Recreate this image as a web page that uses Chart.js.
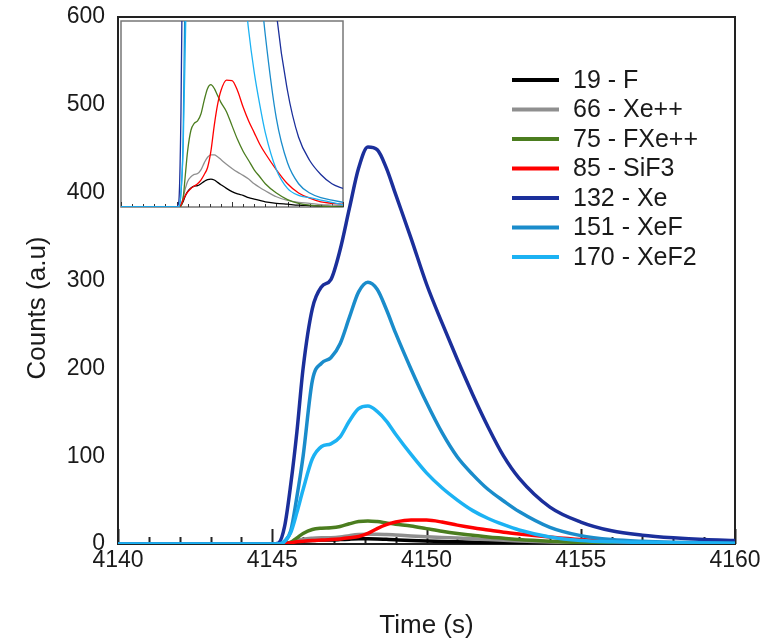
<!DOCTYPE html>
<html>
<head>
<meta charset="utf-8">
<script src="https://cdn.jsdelivr.net/npm/chart.js@4.4.1/dist/chart.umd.min.js"></script>
<style>
  body { margin: 0; background: #fff; }
  #wrap { position: relative; width: 769px; height: 641px; }
  #inset { position: absolute; left: 120px; top: 20px; background: #fff; }
</style>
</head>
<body>
<div id="wrap">
  <canvas id="mainChart" width="769" height="641"></canvas>
  <canvas id="inset" width="224" height="188"></canvas>
</div>
<script>
// time axis (s)
const times = [4140, 4145, 4145.2, 4145.4, 4145.6, 4145.8, 4146.0, 4146.3, 4146.6, 4146.9,
  4147.2, 4147.5, 4147.8, 4148.1, 4148.4, 4148.7, 4149.0, 4149.5, 4150, 4150.5,
  4151, 4151.5, 4152, 4152.5, 4153, 4154, 4155, 4156, 4157, 4158, 4159, 4160];

// counts per mass
const f19 = [0, 0, 0, 0.3, 1.2, 2.4, 3.3, 4.1, 4.5, 4.6,
  5.0, 5.5, 5.9, 6.0, 5.8, 5.3, 4.8, 4.0, 3.3, 2.8,
  2.5, 2.0, 1.7, 1.4, 1.1, 0.8, 0.6, 0.4, 0.3, 0.2, 0.1, 0.1];
const xe66 = [0, 0, 0, 0.5, 2, 4, 5.5, 6.5, 7, 7.2,
  8, 9.5, 10.7, 11.2, 11.2, 10.8, 10.2, 9.2, 8.3, 7.5,
  6.8, 6, 5, 4.2, 3.5, 2.2, 1.4, 1, 0.8, 0.5, 0.4, 0.3];
const fxe75 = [0, 0, 0, 0.2, 2, 7, 12, 16.5, 18, 18.5,
  20, 23, 25.5, 26.3, 25.5, 24, 22.5, 20.5, 17.5, 14.5,
  12, 10, 8, 6.5, 5, 3, 1.6, 0.8, 0.4, 0.2, 0.1, 0];
const sif85 = [0, 0, 0, 0.5, 1.5, 2.5, 3.2, 4, 4.5, 5,
  5.8, 7, 8.5, 12, 17.5, 22, 25, 27.3, 27.2, 25,
  21.5, 18.5, 16, 13.5, 11.5, 8, 5, 3, 1.9, 1.1, 0.8, 0.6];
const xe132 = [0, 0, 1, 20, 68, 128, 200, 268, 293, 301,
  335, 382, 428, 452, 449, 428, 398, 348, 296, 252,
  210, 170, 133, 100, 75, 42, 25, 15, 10, 7, 5, 4];
const xef151 = [0, 0, 0, 3, 15, 54, 100, 186, 206, 212,
  228, 258, 287, 298, 290, 267, 240, 199, 161, 127,
  99, 79, 62, 49, 37, 19, 9.5, 5, 3, 2, 1.5, 1];
const xef170 = [0, 0, 0, 3, 13, 36, 62, 97, 111, 114,
  122, 140, 154, 157, 151, 140, 125, 102, 81, 64,
  50, 38, 29, 22, 16, 8, 4, 2.5, 2, 1.5, 1, 0.5];

const seriesLabels = ['19 - F', '66 - Xe++', '75 - FXe++', '85 - SiF3', '132 - Xe', '151 - XeF', '170 - XeF2'];
const seriesValues = [f19, xe66, fxe75, sif85, xe132, xef151, xef170];
const seriesColors = ['#000000', '#8f8f8f', '#4b7d1f', '#ff0000', '#1b2f9b', '#1a8ccb', '#1cb2f3'];

const xTicks = [4140, 4145, 4150, 4155, 4160];
const yTicks = [0, 100, 200, 300, 400, 500, 600];

const FONT = '"Liberation Sans", Arial, sans-serif';
Chart.defaults.font.family = FONT;
Chart.defaults.color = '#1a1a1a';

function makeDatasets(width) {
  return seriesValues.map((vals, i) => ({
    label: seriesLabels[i],
    data: vals.map((v, j) => ({ x: times[j], y: v })),
    borderColor: seriesColors[i],
    backgroundColor: seriesColors[i],
    borderWidth: width,
    order: seriesValues.length - i,
    fill: false
  }));
}

// box around the plot + inward ticks every second
const frameTicks = {
  id: 'frameTicks',
  beforeDatasetsDraw(chart, args, o) {
    const { ctx, chartArea: a, scales: { x } } = chart;
    ctx.save();
    ctx.strokeStyle = o.frame;
    ctx.lineWidth = o.frameWidth;
    ctx.strokeRect(a.left, a.top, a.right - a.left, a.bottom - a.top);
    ctx.strokeStyle = o.tick;
    ctx.lineWidth = o.tickWidth;
    for (let t = x.min; t <= x.max; t++) {
      const px = Math.round(x.getPixelForValue(t)) + 0.5;
      const len = t % 5 === 0 ? o.major : o.minor;
      ctx.beginPath();
      ctx.moveTo(px, a.bottom);
      ctx.lineTo(px, a.bottom - len);
      ctx.stroke();
    }
    ctx.restore();
  }
};

// legend inside the plot + y axis title (sits a bit below the axis centre)
const boxLegend = {
  id: 'boxLegend',
  afterDraw(chart) {
    const ctx = chart.ctx;
    ctx.save();
    ctx.font = '25px ' + FONT;
    ctx.textBaseline = 'middle';
    ctx.fillStyle = '#1a1a1a';
    seriesLabels.forEach((lab, i) => {
      const y = 80 + i * 29.5;
      ctx.strokeStyle = seriesColors[i];
      ctx.lineWidth = 4;
      ctx.beginPath();
      ctx.moveTo(512, y);
      ctx.lineTo(559, y);
      ctx.stroke();
      ctx.fillText(lab, 573, y + 1);
    });
    ctx.font = '26px ' + FONT;
    ctx.textAlign = 'center';
    ctx.translate(38, 308);
    ctx.rotate(-Math.PI / 2);
    ctx.fillText('Counts (a.u)', 0, 0);
    ctx.restore();
  }
};

new Chart(document.getElementById('mainChart'), {
  type: 'line',
  data: { datasets: makeDatasets(3.5) },
  plugins: [frameTicks, boxLegend],
  options: {
    responsive: false,
    animation: false,
    layout: { padding: { top: 17, right: 34, left: 0, bottom: 0 } },
    elements: { point: { radius: 0 }, line: { cubicInterpolationMode: 'monotone' } },
    plugins: {
      legend: { display: false },
      tooltip: { enabled: false },
      frameTicks: { frame: '#222', frameWidth: 2, tick: '#222', tickWidth: 2, major: 15, minor: 7 }
    },
    scales: {
      x: {
        type: 'linear', min: 4140, max: 4160,
        afterBuildTicks: s => { s.ticks = xTicks.map(v => ({ value: v })); },
        afterFit: s => { s.height = 97; s.paddingLeft = 0; s.paddingRight = 0; },
        grid: { display: false, drawTicks: false },
        border: { display: false },
        ticks: { padding: 3, font: { size: 23 }, maxRotation: 0, autoSkip: false, callback: v => String(v) },
        title: { display: true, text: 'Time (s)', font: { size: 26 }, padding: { top: 0, bottom: 0 } }
      },
      y: {
        min: 0, max: 600,
        afterBuildTicks: s => { s.ticks = yTicks.map(v => ({ value: v })); },
        afterFit: s => { s.width = 118; s.paddingTop = 0; s.paddingBottom = 0; },
        grid: { display: false, drawTicks: false },
        border: { display: false },
        ticks: { padding: 13, font: { size: 23 }, callback: v => String(v) }
      }
    }
  }
});

// zoomed inset, same data, y limited to 0-40
new Chart(document.getElementById('inset'), {
  type: 'line',
  data: { datasets: makeDatasets(1.3) },
  plugins: [frameTicks],
  options: {
    responsive: false,
    animation: false,
    layout: { padding: 1 },
    elements: { point: { radius: 0 }, line: { cubicInterpolationMode: 'monotone' } },
    plugins: {
      legend: { display: false },
      tooltip: { enabled: false },
      frameTicks: { frame: '#777', frameWidth: 1.5, tick: '#333', tickWidth: 1, major: 5, minor: 3 }
    },
    scales: {
      x: { type: 'linear', min: 4140, max: 4160, display: false },
      y: { min: 0, max: 40, display: false }
    }
  }
});
</script>
</body>
</html>
